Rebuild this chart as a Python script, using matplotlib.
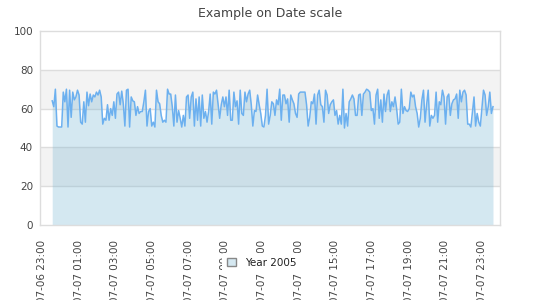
import pandas as pd
import matplotlib
matplotlib.use("Agg")
import matplotlib.pyplot as plt
from matplotlib.patches import Patch

## values, left to right
vals = [64, 61, 70, 51, 50.5, 50.5, 50.5, 68.5, 63.5, 70,
        50.5, 69.5, 55.5, 68.5, 64.5, 66, 69.5, 67, 53, 52,
        63.5, 53, 68.5, 61.5, 67.5, 63.5, 67, 66, 68.5, 67,
        69.5, 66, 52, 55, 54, 62, 54, 60, 56.5, 63.5,
        55, 67.5, 68.5, 62, 69, 62.5, 51, 69.5, 70, 50.5,
        66, 64, 63.5, 56.5, 61, 57.5, 58.5, 58.5, 63.5, 69.5,
        51, 58.5, 60, 51, 53, 50.5, 69.5, 63.5,
        62.5, 56.5, 53, 54, 53, 70, 67.5, 67.5, 61, 51,
        67, 53, 59, 55, 50.5, 56.5, 51, 66, 67, 55,
        66, 68.5, 51, 65, 54, 66, 51, 67, 55, 58.5,
        53, 58.5, 67.5, 52, 68.5, 67.5, 69.5, 62, 55, 62,
        66, 61, 66, 56.5, 69.5, 54, 54, 68.5, 61, 64,
        52, 69.5, 57.5, 56.5, 68.5, 63.5, 67.5, 69.5, 62, 51,
        59, 58.5, 67, 62, 57.5, 51, 50.5, 56.5, 70, 52,
        56.5,
        63.5, 62.5, 56.5, 64.5, 62, 70, 54, 67, 67, 62.5,
        65, 53, 67, 64.5, 62.5, 57.5, 55.5, 67.5, 68.5, 68.5,
        68.5, 68.5, 62, 51, 55.5, 63.5, 62.5, 67.5, 52, 67,
        69.5, 62, 61, 53, 69.5, 67, 57.5, 62, 63.5, 64.5,
        56.5, 59, 52, 56.5, 52, 70, 50, 57.5, 51, 63.5,
        65, 67, 65, 56.5, 56.5, 67, 67.5, 56.5, 67.5, 68.5,
        70, 69.5, 68.5, 59, 60, 52, 67, 70, 55, 64.5,
        53, 67.5,
        58.5, 67, 69.5, 58.5, 63.5, 61, 66, 60, 52, 53,
        70, 57.5, 61, 59, 58.5, 60, 68.5, 66, 67, 61,
        57.5, 50.5, 55, 64.5, 69.5, 53, 62, 69.5, 51, 56.5,
        55, 56.5, 68.5, 53, 63.5, 62, 69.5, 66, 52, 66,
        67.5, 56.5, 62.5, 64.5, 65, 67.5, 55, 69.5, 63.5, 68.5,
        69.5, 67, 52, 52, 50.5, 58.5, 66, 51, 57.5, 53,
        51, 60, 69.5, 67, 56.5, 61, 68.5, 57.5, 61]

start = "2010-07-06 23:33"
end = "2010-07-07 23:36"
times = pd.date_range(start, end, periods=len(vals))

ticks = pd.date_range("2010-07-06 23:00", "2010-07-07 23:00", freq="2h")
ticklabels = [t.strftime("%Y-%m-%d %H:%M") for t in ticks]
yticks = [0, 20, 40, 60, 80, 100]
series_name = "Year 2005"

fill_col = (0.45, 0.70, 0.82)
line_col = "#6cb0ef"
grid_col = "#dddddd"
txt_col = "#444444"

fig = plt.figure(figsize=(5.4, 3.0), dpi=100)
ax = fig.add_axes([40/540, 1 - 225/300, 460/540, 194/300])

ax.axhspan(20, 40, color="#f3f3f3", zorder=0, lw=0)
ax.axhspan(60, 80, color="#f3f3f3", zorder=0, lw=0)
for y in yticks[1:-1]:
    ax.axhline(y, color=grid_col, lw=1, zorder=0.5)

ax.fill_between(times, 0, vals, color=fill_col, alpha=0.3, lw=0, zorder=1)
ax.plot(times, vals, color=line_col, lw=1.1, zorder=2)

ax.set_ylim(0, 100)
ax.set_xlim(pd.Timestamp("2010-07-06 22:53"), pd.Timestamp("2010-07-07 23:59"))
ax.set_yticks(yticks)
ax.set_xticks(ticks)
ax.set_xticklabels(ticklabels, rotation=90)
ax.tick_params(axis="x", length=0, pad=11, labelsize=7.5, colors=txt_col)
ax.tick_params(axis="y", length=0, pad=5, labelsize=7.5, colors=txt_col)
for s in ax.spines.values():
    s.set_color(grid_col)
    s.set_linewidth(1)

fig.text(0.5, 1 - 14/300, "Example on Date scale", ha="center", va="center",
         fontsize=9, color=txt_col)

handle = Patch(facecolor="#d5e8f1", edgecolor="#888888", lw=1)
leg = fig.legend([handle], [series_name], loc="center", bbox_to_anchor=(262/540, 1 - 263/300),
                 frameon=True, fontsize=7.5, handlelength=0.8, handleheight=0.8,
                 handletextpad=0.9, borderpad=0.5)
leg.get_frame().set_facecolor("white")
leg.get_frame().set_edgecolor("none")
leg.get_frame().set_alpha(1)
for t in leg.get_texts():
    t.set_color("#222222")

plt.savefig("out.png", dpi=100)
